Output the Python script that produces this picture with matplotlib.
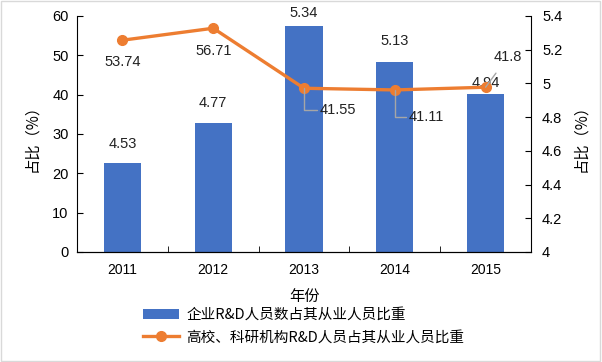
import matplotlib
matplotlib.use('Agg')
import matplotlib.pyplot as plt
from matplotlib.patches import Rectangle

plt.rcParams['font.family'] = ['Liberation Sans', 'Noto Sans CJK SC', 'DejaVu Sans']

years = ['2011', '2012', '2013', '2014', '2015']
bar_vals = [22.6, 32.8, 57.5, 48.3, 40.2]
bar_labels = ['4.53', '4.77', '5.34', '5.13', '4.94']
line_vals = [5.256, 5.327, 4.971, 4.961, 4.977]
line_labels = ['53.74', '56.71', '41.55', '41.11', '41.8']

blue = '#4472C4'
orange = '#ED7D31'
cjk = ['Noto Sans CJK SC', 'DejaVu Sans']

fig = plt.figure(figsize=(6.02, 3.62), dpi=100)
fig.patches.append(Rectangle((0.002, 0.003), 0.995, 0.994, transform=fig.transFigure,
                             fill=False, edgecolor='#d9d9d9', linewidth=1))
ax = fig.add_axes([0.128, 0.304, 0.754, 0.652])
x = list(range(len(years)))
bars = ax.bar(x, bar_vals, width=0.41, color=blue, zorder=2,
              label='企业R&D人员数占其从业人员比重')
ax.set_xlim(-0.5, 4.5)
ax.set_ylim(0, 60)
ax.set_yticks(range(0, 61, 10))
ax.set_xticks(x)
ax.set_xticklabels(years)
ax.set_xticks([0.5, 1.5, 2.5, 3.5], minor=True)
ax.tick_params(axis='x', which='major', length=0, pad=8, labelsize=10)
ax.tick_params(axis='x', which='minor', length=4, direction='in')
ax.tick_params(axis='y', length=4, direction='in', labelsize=10.5, pad=6)
for s in ['top', 'right']:
    ax.spines[s].set_visible(False)
ax.set_ylabel('占比（%）', family=cjk, fontsize=11, labelpad=9)
ax.set_xlabel('年份', family=cjk, fontsize=11, labelpad=8)

# gap (points) between bar top and its label, as placed in the original
bar_gaps = [8.5, 9.5, 4.5, 10, 3]
for i, b in enumerate(bars):
    ax.annotate(bar_labels[i], (b.get_x() + b.get_width() / 2, b.get_height()),
                textcoords='offset points', xytext=(0, bar_gaps[i]),
                ha='center', va='bottom', fontsize=10.5, color='#222222', zorder=5,
                annotation_clip=False)

ax2 = ax.twinx()
ax2.plot(x, line_vals, '-o', color=orange, linewidth=2.4, markersize=7, zorder=3,
         label='高校、科研机构R&D人员占其从业人员比重')
ax2.set_ylim(4, 5.4)
ax2.set_yticks([4, 4.2, 4.4, 4.6, 4.8, 5, 5.2, 5.4])
ax2.set_yticklabels(['4', '4.2', '4.4', '4.6', '4.8', '5', '5.2', '5.4'])
ax2.tick_params(axis='y', length=4, direction='in', labelsize=10.5, pad=8)
for s in ['top', 'left']:
    ax2.spines[s].set_visible(False)
ax2.set_ylabel('占比（%）', family=cjk, fontsize=11, rotation=90, labelpad=7)

# line labels: first two plain below the point, the rest with leader lines
offsets = [(0, -16), (0, -16.5), (11, -16), (10, -19.5), (6, 22)]
gray = '#a6a6a6'
for i, v in enumerate(line_vals):
    dx, dy = offsets[i]
    if i < 2:
        ax2.annotate(line_labels[i], (x[i], v), textcoords='offset points', xytext=(dx, dy),
                     ha='center', va='center', fontsize=10.5, color='#222222')
    elif i < 4:
        ax2.annotate(line_labels[i], (x[i], v), textcoords='offset points', xytext=(dx, dy),
                     ha='left', va='center', fontsize=10.5, color='#222222',
                     arrowprops=dict(arrowstyle='-', color=gray, lw=1,
                                     connectionstyle='angle,angleA=0,angleB=90,rad=0',
                                     shrinkA=0, shrinkB=0))
    else:
        ax2.annotate(line_labels[i], (x[i], v), textcoords='offset points', xytext=(dx, dy),
                     ha='left', va='center', fontsize=10.5, color='#222222',
                     arrowprops=dict(arrowstyle='-', color=gray, lw=1, shrinkA=6, shrinkB=0))

h1, l1 = ax.get_legend_handles_labels()
h2, l2 = ax2.get_legend_handles_labels()
fig.legend(h1 + h2, l1 + l2, loc='upper left', bbox_to_anchor=(0.225, 0.17),
           frameon=False, prop={'family': cjk, 'size': 10.5}, handlelength=2.5,
           handleheight=0.7, labelspacing=0.6, borderpad=0, handletextpad=0.5)

fig.savefig('out.png', dpi=100)
